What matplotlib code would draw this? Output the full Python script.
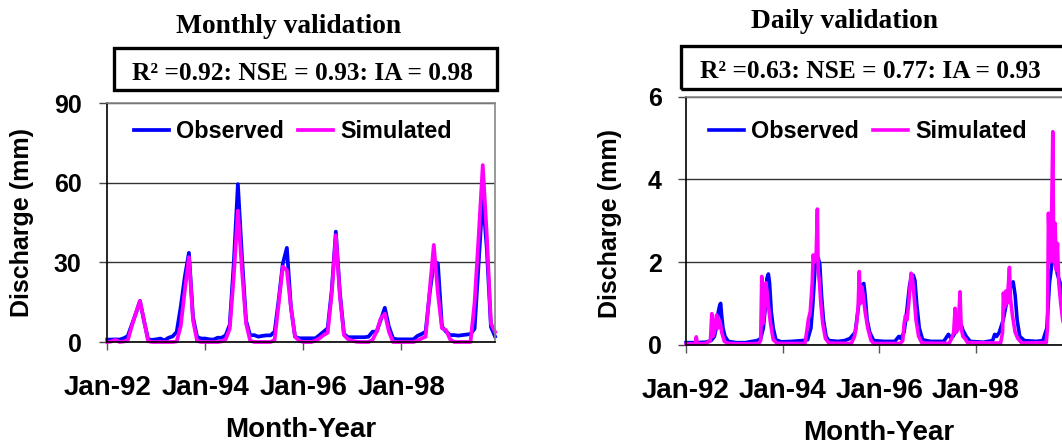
import matplotlib
matplotlib.use('Agg')
import matplotlib.pyplot as plt
from matplotlib.patches import Rectangle

# monthly discharge (mm), one value per month, Jan-1992 .. Dec-1999
monthly_obs = [0.9, 0.9, 1.0, 0.9, 1.4, 2.2, 6.5, 10.7, 15.5, 8.0, 1.0, 0.8,
               1.0, 1.3, 0.6, 1.6, 2.1, 3.8, 13.3, 24.7, 33.6, 9.4, 1.9, 1.3,
               1.3, 1.0, 0.9, 1.6, 1.6, 2.5, 6.5, 30.0, 59.5, 32.0, 8.0, 2.5,
               2.6, 2.0, 2.3, 2.5, 2.5, 3.9, 16.0, 29.5, 35.5, 13.0, 2.0, 1.4,
               1.4, 1.4, 1.4, 1.4, 2.6, 3.9, 5.2, 19.6, 41.6, 18.4, 3.0, 1.8,
               1.8, 1.8, 1.8, 1.8, 2.0, 3.9, 3.9, 8.3, 12.9, 5.8, 1.4, 1.0,
               1.0, 1.0, 1.0, 1.0, 2.3, 3.0, 3.9, 18.4, 30.0, 29.7, 5.8, 3.9,
               2.6, 2.6, 2.4, 2.6, 2.8, 3.0, 5.0, 30.0, 55.0, 35.0, 5.7, 2.1]
monthly_sim = [0.0, 0.2, 0.8, 0.0, 0.2, 0.5, 6.0, 11.0, 15.5, 8.0, 0.3, 0.0,
               0.0, 0.0, 0.0, 0.0, 0.0, 0.2, 6.0, 19.5, 32.0, 8.2, 0.4, 0.0,
               0.0, 0.0, 0.0, 0.0, 0.2, 1.0, 5.0, 25.0, 49.5, 27.0, 7.0, 0.5,
               0.0, 0.0, 0.0, 0.0, 0.0, 0.8, 14.6, 28.4, 27.0, 13.0, 2.0, 0.5,
               0.0, 0.0, 0.0, 0.5, 1.4, 2.6, 3.5, 18.4, 40.3, 17.0, 2.6, 1.0,
               0.5, 0.1, 0.0, 0.0, 0.0, 0.8, 3.9, 8.9, 10.7, 3.9, 0.0, 0.0,
               0.0, 0.0, 0.0, 0.0, 0.5, 1.3, 2.0, 19.6, 36.6, 18.4, 5.2, 4.5,
               1.0, 0.0, 0.0, 0.0, 0.0, 0.0, 15.0, 40.0, 66.7, 40.0, 7.0, 3.8]
month_ticks = [0, 24, 48, 72]

# daily discharge (mm), read at the turning points; day 0 = 1 Jan 1992
daily_obs_day = [0, 60, 150, 190, 215, 235, 245, 255, 262, 270, 280, 295, 320, 380,
                 450, 500, 540, 565, 585, 600, 612, 623, 632, 645, 660, 680, 720, 800,
                 880, 920, 945, 960, 975, 985, 1000, 1012, 1025, 1040, 1060, 1080, 1150,
                 1200, 1240, 1280, 1300, 1320, 1335, 1345, 1355, 1370, 1390, 1420, 1500,
                 1580, 1610, 1625, 1650, 1670, 1690, 1705, 1720, 1732, 1745, 1765, 1790,
                 1850, 1950, 1985, 2000, 2020, 2045, 2065, 2080, 2095, 2120, 2150, 2250,
                 2320, 2335, 2350, 2370, 2400, 2430, 2455, 2475, 2490, 2505, 2525, 2560,
                 2650, 2700, 2730, 2750, 2770, 2790, 2810, 2830, 2850, 2870, 2890, 2921]
daily_obs = [0.05, 0.05, 0.06, 0.1, 0.2, 0.5, 0.8, 0.95, 1.0, 0.7, 0.4, 0.2, 0.08, 0.05,
             0.05, 0.08, 0.1, 0.15, 0.4, 0.9, 1.6, 1.71, 1.5, 0.8, 0.4, 0.12, 0.07, 0.08,
             0.1, 0.12, 0.4, 1.0, 1.8, 2.05, 2.1, 1.95, 1.2, 0.6, 0.2, 0.1, 0.08,
             0.1, 0.15, 0.3, 0.8, 1.3, 1.45, 1.48, 1.2, 0.6, 0.3, 0.1, 0.08,
             0.08, 0.2, 0.15, 0.3, 0.8, 1.4, 1.65, 1.68, 1.55, 1.0, 0.4, 0.12,
             0.08, 0.08, 0.25, 0.18, 0.2, 0.35, 0.45, 0.5, 0.35, 0.2, 0.08, 0.06,
             0.1, 0.25, 0.2, 0.3, 0.6, 1.1, 1.4, 1.52, 1.2, 0.6, 0.2, 0.1,
             0.08, 0.1, 0.4, 1.5, 2.0, 2.1, 1.7, 1.5, 1.0, 0.5, 0.2, 0.1]
daily_sim_day = [0, 70, 78, 86, 150, 185, 195, 203, 215, 225, 232, 240, 248, 258, 270,
                 290, 320, 450, 550, 565, 573, 580, 595, 605, 615, 625, 640, 660, 690,
                 900, 915, 925, 940, 955, 962, 970, 985, 994, 1000, 1010, 1020, 1035,
                 1055, 1080, 1250, 1275, 1290, 1302, 1311, 1320, 1330, 1340, 1355, 1375,
                 1400, 1420, 1620, 1640, 1650, 1660, 1672, 1685, 1695, 1703, 1712, 1725,
                 1740, 1760, 1785, 1990, 2010, 2025, 2036, 2045, 2060, 2073, 2082, 2095,
                 2110, 2130, 2380, 2395, 2401, 2410, 2420, 2430, 2447, 2455, 2470, 2490,
                 2510, 2540, 2725, 2735, 2742, 2752, 2762, 2775, 2782, 2792, 2802, 2810,
                 2820, 2835, 2850, 2870, 2890, 2921]
daily_sim = [0.02, 0.02, 0.19, 0.02, 0.03, 0.1, 0.75, 0.2, 0.3, 0.6, 0.72, 0.4, 0.6, 0.55, 0.3,
             0.08, 0.03, 0.02, 0.03, 0.1, 1.65, 0.5, 0.8, 1.5, 1.2, 0.9, 0.5, 0.12, 0.03,
             0.03, 0.35, 0.6, 0.8, 1.5, 2.17, 2.0, 2.2, 3.28, 1.8, 1.5, 1.0, 0.5,
             0.15, 0.04, 0.03, 0.2, 0.5, 0.9, 1.77, 1.0, 1.4, 1.2, 0.8, 0.4,
             0.1, 0.03, 0.03, 0.1, 0.5, 0.7, 0.6, 1.0, 1.4, 1.73, 1.65, 1.2,
             0.6, 0.2, 0.04, 0.03, 0.15, 0.3, 0.88, 0.3, 0.4, 1.28, 0.4, 0.2,
             0.15, 0.05, 0.04, 0.3, 1.25, 0.9, 1.3, 1.0, 1.87, 1.1, 0.7, 0.3,
             0.15, 0.04, 0.05, 0.4, 3.18, 2.0, 2.2, 5.15, 2.0, 2.94, 1.8, 2.45,
             1.5, 1.0, 0.6, 0.3, 0.1, 0.05]
day_ticks = [0, 731, 1461, 2192]

tick_labels = ['Jan-92', 'Jan-94', 'Jan-96', 'Jan-98']

SANS = 'Liberation Sans'
SERIF = 'Liberation Serif'
BLUE = '#0000ff'
MAGENTA = '#ff00ff'
W, H = 1062, 446

fig = plt.figure(figsize=(W / 100, H / 100), dpi=100)


def px_axes(x0, y0, x1, y1):
    # pixel box measured from the top-left corner of the picture
    return fig.add_axes([x0 / W, 1 - y1 / H, (x1 - x0) / W, (y1 - y0) / H])


def draw_panel(ax, x_obs, y_obs, x_sim, y_sim, xmax, ymax, yticks, xticks,
               lw, ytick_pad, legend_xy, ylabel_xy, xlabel_xy):
    ax.plot(x_obs, y_obs, color=BLUE, lw=lw, label='Observed', clip_on=False)
    ax.plot(x_sim, y_sim, color=MAGENTA, lw=lw, label='Simulated', clip_on=False)
    ax.set_xlim(0, xmax)
    ax.set_ylim(0, ymax)
    ax.set_yticks(yticks)
    ax.set_xticks(xticks)
    ax.set_xticklabels(tick_labels)
    ax.yaxis.grid(True, color='#333333', lw=1.0)
    ax.set_axisbelow(True)
    for side in ['left', 'bottom']:
        ax.spines[side].set_color('black')
        ax.spines[side].set_linewidth(1.2)
    for side in ['top', 'right']:
        ax.spines[side].set_color('#888888')
        ax.spines[side].set_linewidth(1.2)
    ax.tick_params(axis='y', direction='out', length=6, width=1, color='#444444',
                   pad=ytick_pad, labelsize=18)
    ax.tick_params(axis='x', direction='out', length=6, width=1, color='#555555',
                   pad=18, labelsize=20)
    for lab in ax.get_xticklabels() + ax.get_yticklabels():
        lab.set_fontfamily(SANS)
        lab.set_fontweight('bold')

    ax.legend(ncol=2, frameon=False, loc='center left', bbox_to_anchor=legend_xy,
              borderaxespad=0, borderpad=0, handlelength=1.5, handletextpad=0.3,
              columnspacing=0.6, prop={'family': SANS, 'weight': 'bold', 'size': 16.8})

    ax.set_ylabel('Discharge (mm)', family=SANS, fontweight='bold', fontsize=18)
    ax.yaxis.set_label_coords(*ylabel_xy)
    ax.set_xlabel('Month-Year', family=SANS, fontweight='bold', fontsize=20)
    ax.xaxis.set_label_coords(*xlabel_xy)
    ax.xaxis.label.set_verticalalignment('baseline')


# left: monthly
ax1 = px_axes(107.3, 103.3, 495.0, 342.0)
draw_panel(ax1, range(len(monthly_obs)), monthly_obs, range(len(monthly_sim)), monthly_sim,
           95, 90, [0, 30, 60, 90], month_ticks, 2.7, 12.5,
           legend_xy=(0.0696, 0.881), ylabel_xy=(-0.19, 0.5), xlabel_xy=(0.498, -0.397))

# right: daily (axes run past the right edge of the picture)
ax2 = px_axes(686.0, 96.6, 1072.1, 344.7)
draw_panel(ax2, daily_obs_day, daily_obs, daily_sim_day, daily_sim,
           2921, 6, [0, 2, 4, 6], day_ticks, 2.6, 11.5,
           legend_xy=(0.0604, 0.8585), ylabel_xy=(-0.165, 0.489), xlabel_xy=(0.498, -0.385))

# titles
fig.text(288.5 / W, 1 - 33.3 / H, 'Monthly validation', family=SERIF, fontweight='bold',
         fontsize=19.8, ha='center', va='baseline')
fig.text(844.3 / W, 1 - 28.3 / H, 'Daily validation', family=SERIF, fontweight='bold',
         fontsize=19.8, ha='center', va='baseline')

# statistics boxes
fig.add_artist(Rectangle((113.5 / W, 1 - 90.2 / H), 383.4 / W, 42.0 / H,
                         transform=fig.transFigure, fill=False, lw=2.4, ec='black'))
fig.add_artist(Rectangle((681.4 / W, 1 - 88.5 / H), 420 / W, 43.0 / H,
                         transform=fig.transFigure, fill=False, lw=2.4, ec='black'))
fig.text(132.4 / W, 1 - 80 / H, 'R\u00b2 =0.92: NSE = 0.93: IA = 0.98', family=SERIF,
         fontweight='bold', fontsize=18.3, ha='left', va='baseline')
fig.text(700.2 / W, 1 - 78.3 / H, 'R\u00b2 =0.63: NSE = 0.77: IA = 0.93', family=SERIF,
         fontweight='bold', fontsize=18.3, ha='left', va='baseline')

fig.savefig('out.png', dpi=100)
